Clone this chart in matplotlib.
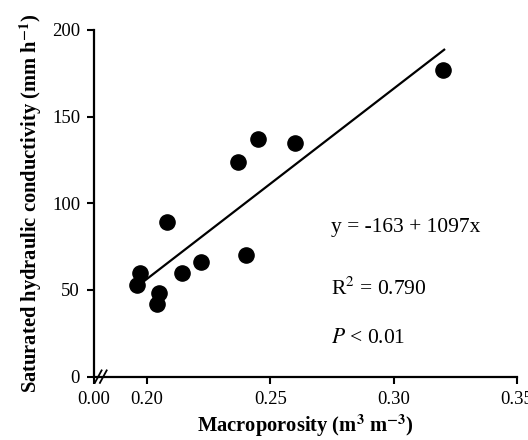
import numpy as np
import matplotlib
matplotlib.use('Agg')
import matplotlib.pyplot as plt

# macroporosity (m3 m-3) and saturated hydraulic conductivity (mm h-1)
macroporosity = [0.320, 0.245, 0.260, 0.237, 0.208, 0.240, 0.222, 0.214, 0.197, 0.196, 0.205, 0.204]
ksat = [177, 137, 135, 124, 89, 70, 66, 60, 60, 53, 48, 42]

# fitted line y = a + b x
intercept = -163
slope = 1097
fit_range = [0.1975, 0.3205]

x_ticks = [0.1785, 0.20, 0.25, 0.30, 0.35]
x_ticklabels = ['0.00', '0.20', '0.25', '0.30', '0.35']
y_ticks = [0, 50, 100, 150, 200]

plt.rcParams['font.family'] = ['Liberation Serif', 'DejaVu Serif']
plt.rcParams['mathtext.fontset'] = 'stix'

fig = plt.figure(figsize=(5.28, 4.4), dpi=100)
ax = fig.add_axes([0.178, 0.144, 0.801, 0.788])

ax.scatter(macroporosity, ksat, s=120, color='black', zorder=3)
xf = np.array(fit_range)
ax.plot(xf, intercept + slope * xf, color='black', lw=1.6)

ax.set_xlim(0.1785, 0.35)
ax.set_ylim(0, 200)
ax.set_xticks(x_ticks)
ax.set_xticklabels(x_ticklabels)
ax.set_yticks(y_ticks)
ax.tick_params(direction='out', length=5, width=1.5, labelsize=13.5, colors='black', pad=5)
for s in ['top', 'right']:
    ax.spines[s].set_visible(False)
for s in ['left', 'bottom']:
    ax.spines[s].set_linewidth(1.6)

# axis break marks
for dx in [0.010, 0.022]:
    ax.plot([dx - 0.008, dx + 0.008], [-0.018, 0.018], transform=ax.transAxes,
            color='black', lw=1.3, clip_on=False)

ax.set_xlabel(r'Macroporosity (m$^{\mathbf{3}}$ m$^{\mathbf{-3}}$)', fontsize=14.8, fontweight='bold', labelpad=4)
ax.set_ylabel(r'Saturated hydraulic conductivity (mm h$^{\mathbf{-1}}$)', fontsize=14.8, fontweight='bold', labelpad=6)

ax.text(0.2745, 86, 'y = -163 + 1097x', fontsize=15.5, va='center')
ax.text(0.2745, 51, r'R$^{2}$ = 0.790', fontsize=15.5, va='center')
ax.text(0.2745, 22, r'$P$ < 0.01', fontsize=15.5, va='center')

fig.savefig('out.png', dpi=100)
